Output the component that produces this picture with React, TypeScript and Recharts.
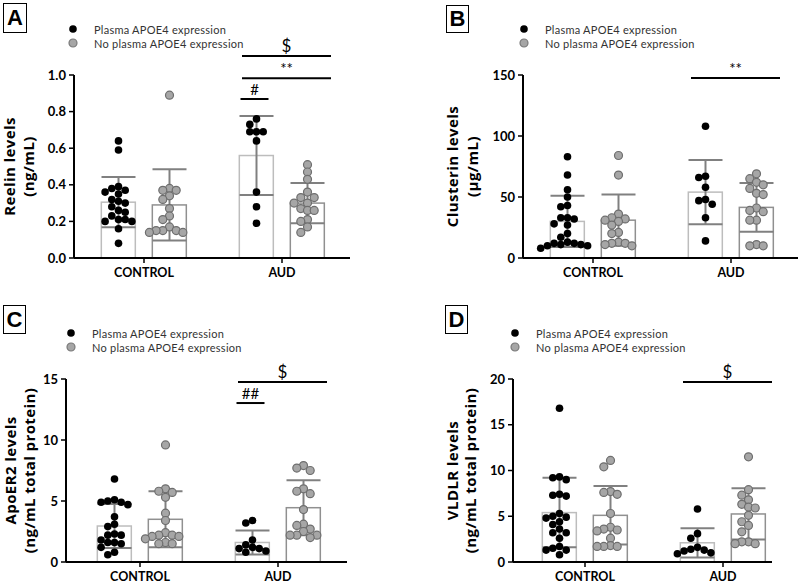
import React from 'react';
import {
  ComposedChart,
  Bar,
  Scatter,
  XAxis,
  YAxis,
  ErrorBar,
  ReferenceLine,
  Legend,
} from 'recharts';

const FONT = 'Lato, "Open Sans", sans-serif';

const GROUPS = ['CONTROL', 'AUD'];
const SERIES = ['Plasma APOE4 expression', 'No plasma APOE4 expression'];

// A - Reelin (ng/mL)
const reelinCtrlPlasma = [0.64, 0.59, 0.39, 0.38, 0.37, 0.36, 0.35, 0.32, 0.31, 0.3, 0.28, 0.26, 0.25, 0.23, 0.21, 0.21, 0.2, 0.2, 0.16, 0.08];
const reelinCtrlNo = [0.89, 0.38, 0.37, 0.37, 0.34, 0.32, 0.27, 0.23, 0.21, 0.17, 0.15, 0.15, 0.15, 0.14, 0.14];
const reelinAudPlasma = [0.76, 0.73, 0.69, 0.69, 0.69, 0.64, 0.36, 0.28, 0.19];
const reelinAudNo = [0.51, 0.47, 0.43, 0.36, 0.33, 0.33, 0.3, 0.3, 0.27, 0.26, 0.26, 0.21, 0.2, 0.17, 0.14];
const reelinMean = [0.305, 0.29, 0.56, 0.3];
const reelinSd = [0.137, 0.195, 0.216, 0.11];
const reelinTicks = [0, 0.2, 0.4, 0.6, 0.8, 1.0];

// B - Clusterin (µg/mL)
const clusCtrlPlasma = [83, 68, 56, 50, 43, 42, 33, 33, 32, 28, 27, 20, 17, 13, 12, 12, 11, 11, 10, 10, 8];
const clusCtrlNo = [84, 68, 36, 33, 32, 31, 30, 27, 21, 20, 13, 12, 12, 11, 10];
const clusAudPlasma = [108, 67, 66, 58, 48, 47, 44, 33, 14];
const clusAudNo = [69, 65, 62, 60, 57, 53, 52, 41, 39, 38, 31, 31, 11, 10, 10];
const clusMean = [30, 31, 54, 41.5];
const clusSd = [21, 21, 26.4, 20];
const clusTicks = [0, 50, 100, 150];

// C - ApoER2 (ng/mL total protein)
const apoCtrlPlasma = [6.8, 5.1, 5.0, 4.9, 4.9, 4.7, 3.7, 3.1, 2.9, 2.3, 2.2, 2.2, 1.8, 1.6, 1.6, 1.5, 1.2, 0.8, 0.6];
const apoCtrlNo = [9.6, 6.0, 5.8, 5.7, 5.3, 4.0, 3.4, 2.4, 2.2, 2.2, 2.1, 2.1, 1.9, 1.6, 1.5, 1.5];
const apoAudPlasma = [3.4, 3.2, 1.8, 1.4, 1.2, 1.1, 1.1, 0.9, 0.8];
const apoAudNo = [7.9, 7.7, 7.5, 6.0, 5.8, 5.6, 4.3, 3.1, 3.0, 2.7, 2.5, 2.2, 2.2, 2.2, 2.0];
const apoMean = [2.95, 3.5, 1.6, 4.45];
const apoSd = [1.8, 2.3, 0.98, 2.25];
const apoTicks = [0, 5, 10, 15];

// D - VLDLR (ng/mL total protein)
const vldCtrlPlasma = [16.8, 9.3, 9.2, 9.0, 7.4, 7.3, 7.2, 5.3, 5.0, 4.9, 4.8, 4.4, 4.1, 3.6, 3.2, 3.2, 2.6, 1.7, 1.5, 1.3, 1.3, 0.8];
const vldCtrlNo = [11.1, 10.4, 7.7, 7.6, 7.4, 5.3, 3.8, 3.6, 3.5, 3.4, 2.6, 1.8, 1.7, 1.7, 1.7];
const vldAudPlasma = [5.8, 3.1, 2.6, 1.6, 1.4, 1.3, 1.2, 1.0, 0.9];
const vldAudNo = [11.5, 7.9, 7.3, 6.8, 6.3, 6.0, 5.9, 5.1, 4.4, 4.0, 3.3, 2.2, 2.2, 2.0, 2.0];
const vldMean = [5.4, 5.1, 2.1, 5.25];
const vldSd = [3.8, 3.2, 1.6, 2.8];
const vldTicks = [0, 5, 10, 15, 20];

type Annot = { text: string; y: number; span: 'pair' | 'left' };

const PLOT_H = 183;

const PANELS = [
  {
    letter: 'A', left: 0, top: 0, axisW: 74, xLen: 276, right: 10, height: 290, marginTop: 75, xAxisH: 30,
    ticks: [70, 208], titleX: [65, 46], box: { x: 3, y: 3, w: 24, h: 30 }, legend: { left: 68, top: 22 },
    title: ['Reelin levels', '(ng/mL)'], yTicks: reelinTicks, fmt: (v: number) => v.toFixed(1),
    groups: [reelinCtrlPlasma, reelinCtrlNo, reelinAudPlasma, reelinAudNo], mean: reelinMean, sd: reelinSd,
    annots: [
      { text: '$', y: 1.104, span: 'pair' },
      { text: '**', y: 0.982, span: 'pair' },
      { text: '#', y: 0.869, span: 'left' },
    ] as Annot[],
  },
  {
    letter: 'B', left: 409, top: 0, axisW: 114, xLen: 275, right: 2, height: 290, marginTop: 75, xAxisH: 30,
    ticks: [70, 208], titleX: [71, 51], box: { x: 446, y: 5, w: 23, h: 28 }, legend: { left: 110, top: 22 },
    title: ['Clusterin levels', '(µg/mL)'], yTicks: clusTicks, fmt: (v: number) => String(v),
    groups: [clusCtrlPlasma, clusCtrlNo, clusAudPlasma, clusAudNo], mean: clusMean, sd: clusSd,
    annots: [{ text: '**', y: 147.5, span: 'pair' }] as Annot[],
  },
  {
    letter: 'C', left: 0, top: 290, axisW: 66, xLen: 281, right: 10, height: 294, marginTop: 89, xAxisH: 22,
    ticks: [74, 212], titleX: [56, 37], box: { x: 3, y: 305, w: 23, h: 29 }, legend: { left: 66, top: 36 },
    title: ['ApoER2 levels', '(ng/mL total protein)'], yTicks: apoTicks, fmt: (v: number) => String(v),
    groups: [apoCtrlPlasma, apoCtrlNo, apoAudPlasma, apoAudNo], mean: apoMean, sd: apoSd,
    annots: [
      { text: '$', y: 14.75, span: 'pair' },
      { text: '##', y: 13.03, span: 'left' },
    ] as Annot[],
  },
  {
    letter: 'D', left: 399, top: 290, axisW: 114, xLen: 259, right: 10, height: 294, marginTop: 89, xAxisH: 22,
    ticks: [72, 210], titleX: [61, 43], box: { x: 445, y: 305, w: 23, h: 29 }, legend: { left: 111, top: 36 },
    title: ['VLDLR levels', '(ng/mL total protein)'], yTicks: vldTicks, fmt: (v: number) => String(v),
    groups: [vldCtrlPlasma, vldCtrlNo, vldAudPlasma, vldAudNo], mean: vldMean, sd: vldSd,
    annots: [{ text: '$', y: 19.67, span: 'pair' }] as Annot[],
  },
];

// simple beeswarm so points at similar levels spread sideways (x in px units)
function swarm(values: number[], center: number, pxPerUnit: number) {
  const step = 6.7;
  const minD = 6.6;
  const placed: { dx: number; py: number }[] = [];
  const out: { x: number; y: number }[] = [];
  const order = values.map((_, i) => i).sort((a, b) => values[b] - values[a]);
  for (const i of order) {
    const py = values[i] * pxPerUnit;
    let dx = 0;
    for (let k = 0; k < 30; k++) {
      const off = k === 0 ? 0 : (k % 2 ? -1 : 1) * Math.ceil(k / 2) * step;
      if (placed.every((p) => Math.hypot(p.dx - off, p.py - py) >= minD)) {
        dx = off;
        break;
      }
    }
    placed.push({ dx, py });
    out.push({ x: center + dx, y: values[i] });
  }
  return out;
}

function AxisTitle(props: any) {
  const { viewBox, lines, offsets } = props;
  const cy = viewBox.y + viewBox.height / 2;
  return (
    <g>
      {lines.map((t: string, i: number) => {
        const x = viewBox.x + viewBox.width - offsets[i];
        return (
          <text
            key={t}
            x={x}
            y={cy}
            transform={`rotate(-90, ${x}, ${cy})`}
            textAnchor="middle"
            dominantBaseline="central"
            fontFamily='"Open Sans", sans-serif'
            fontSize={15}
            fontWeight={700}
            letterSpacing={0.4}
            fill="#000"
          >
            {t}
          </text>
        );
      })}
    </g>
  );
}

function LegendBox({ payload }: any) {
  const items = (payload || [])
    .filter((p: any) => SERIES.includes(p.value))
    .sort((a: any, b: any) => SERIES.indexOf(a.value) - SERIES.indexOf(b.value));
  return (
    <div style={{ fontFamily: FONT, fontSize: 11, color: '#333' }}>
      {items.map((p: any) => (
        <div key={p.value} style={{ display: 'flex', alignItems: 'center', height: 14 }}>
          <svg width={10} height={10}>
            {p.value === SERIES[0] ? (
              <circle cx={5} cy={5} r={3.8} fill="#000" />
            ) : (
              <circle cx={5} cy={5} r={4} fill="#a6a6a6" stroke="#7a7a7a" strokeWidth={1.2} />
            )}
          </svg>
          <span style={{ marginLeft: 16, letterSpacing: 0.25 }}>{p.value}</span>
        </div>
      ))}
    </div>
  );
}

function PanelChart({ p }: { p: (typeof PANELS)[number] }) {
  const yMax = p.yTicks[p.yTicks.length - 1];
  const ppu = PLOT_H / yMax;
  const [t1, t2] = p.ticks;
  const centers = [t1 - 25.5, t1 + 25.5, t2 - 25.5, t2 + 25.5];
  const barData = centers.map((x, i) => ({ x, y: p.mean[i], sd: p.sd[i] }));
  const plasma = [...swarm(p.groups[0], centers[0], ppu), ...swarm(p.groups[2], centers[2], ppu)];
  const noPlasma = [...swarm(p.groups[1], centers[1], ppu), ...swarm(p.groups[3], centers[3], ppu)];
  const width = p.axisW + p.xLen + p.right;
  const marginBottom = p.height - p.marginTop - PLOT_H - p.xAxisH;

  return (
    <div style={{ position: 'absolute', left: p.left, top: p.top }}>
      <ComposedChart
        width={width}
        height={p.height}
        data={barData}
        margin={{ top: p.marginTop, right: p.right, bottom: marginBottom, left: 0 }}
        style={{ fontFamily: FONT }}
      >
        <XAxis
          type="number"
          dataKey="x"
          domain={[0, p.xLen]}
          allowDataOverflow
          ticks={p.ticks}
          interval={0}
          height={p.xAxisH}
          tickFormatter={(v: number) => (v === t1 ? GROUPS[0] : GROUPS[1])}
          tick={{ fill: '#000', fontSize: 12.5, fontWeight: 700 }}
          tickSize={5}
          tickMargin={5}
          axisLine={{ stroke: '#000', strokeWidth: 2 }}
          tickLine={{ stroke: '#000', strokeWidth: 1.5 }}
        />
        <YAxis
          type="number"
          dataKey="y"
          domain={[0, yMax]}
          allowDataOverflow
          ticks={p.yTicks}
          interval={0}
          width={p.axisW}
          tickFormatter={p.fmt}
          tick={{ fill: '#000', fontSize: 13, fontWeight: 700 }}
          tickSize={5}
          tickMargin={3}
          axisLine={{ stroke: '#000', strokeWidth: 2 }}
          tickLine={{ stroke: '#000', strokeWidth: 1.5 }}
          label={(lp: any) => <AxisTitle {...lp} lines={p.title} offsets={p.titleX} />}
        />
        <Legend
          layout="vertical"
          align="center"
          verticalAlign="middle"
          wrapperStyle={{ left: p.legend.left, top: p.legend.top, width: 'auto', height: 'auto' }}
          content={<LegendBox />}
        />
        <Bar
          dataKey="y"
          isAnimationActive={false}
          legendType="none"
          shape={(bp: any) => (
            <rect
              x={bp.x + bp.width / 2 - 17}
              y={bp.y}
              width={34}
              height={bp.height}
              fill="#fff"
              stroke={bp.index % 2 ? '#909090' : '#bdbdbd'}
              strokeWidth={1.5}
            />
          )}
        />
        <Scatter
          name={SERIES[0]}
          data={plasma}
          fill="#000"
          isAnimationActive={false}
          shape={(sp: any) => <circle cx={sp.cx} cy={sp.cy} r={3.8} fill="#000" />}
        />
        <Scatter
          name={SERIES[1]}
          data={noPlasma}
          fill="#a6a6a6"
          isAnimationActive={false}
          shape={(sp: any) => (
            <circle cx={sp.cx} cy={sp.cy} r={4} fill="#a6a6a6" stroke="#6e6e6e" strokeWidth={1.2} />
          )}
        />
        <Scatter data={barData} isAnimationActive={false} legendType="none" shape={() => <g />}>
          <ErrorBar dataKey="sd" direction="y" width={17} stroke="#808080" strokeWidth={2} />
        </Scatter>
        {p.annots.map((a) => (
          <ReferenceLine
            key={a.text + a.y}
            ifOverflow="visible"
            segment={
              a.span === 'pair'
                ? [{ x: t2 - 40, y: a.y }, { x: t2 + 49, y: a.y }]
                : [{ x: t2 - 41.5, y: a.y }, { x: t2 - 13.5, y: a.y }]
            }
            stroke="#000"
            strokeWidth={2}
            label={{ value: a.text, position: 'top', offset: 4, fill: '#000', fontSize: a.text === '$' ? 17 : 15 }}
          />
        ))}
      </ComposedChart>
    </div>
  );
}

export default function App() {
  return (
    <div style={{ position: 'absolute', left: 0, top: 0, width: 800, height: 584, background: '#fff', overflow: 'hidden' }}>
      {PANELS.map((p) => (
        <PanelChart key={p.letter} p={p} />
      ))}
      {PANELS.map((p) => (
        <div
          key={'box' + p.letter}
          style={{
            position: 'absolute',
            left: p.box.x,
            top: p.box.y,
            width: p.box.w,
            height: p.box.h,
            boxSizing: 'border-box',
            border: '1.5px solid #000',
            display: 'flex',
            alignItems: 'center',
            justifyContent: 'center',
            fontFamily: '"Liberation Sans", Arial, sans-serif',
            fontWeight: 700,
            fontSize: 22,
          }}
        >
          {p.letter}
        </div>
      ))}
    </div>
  );
}
